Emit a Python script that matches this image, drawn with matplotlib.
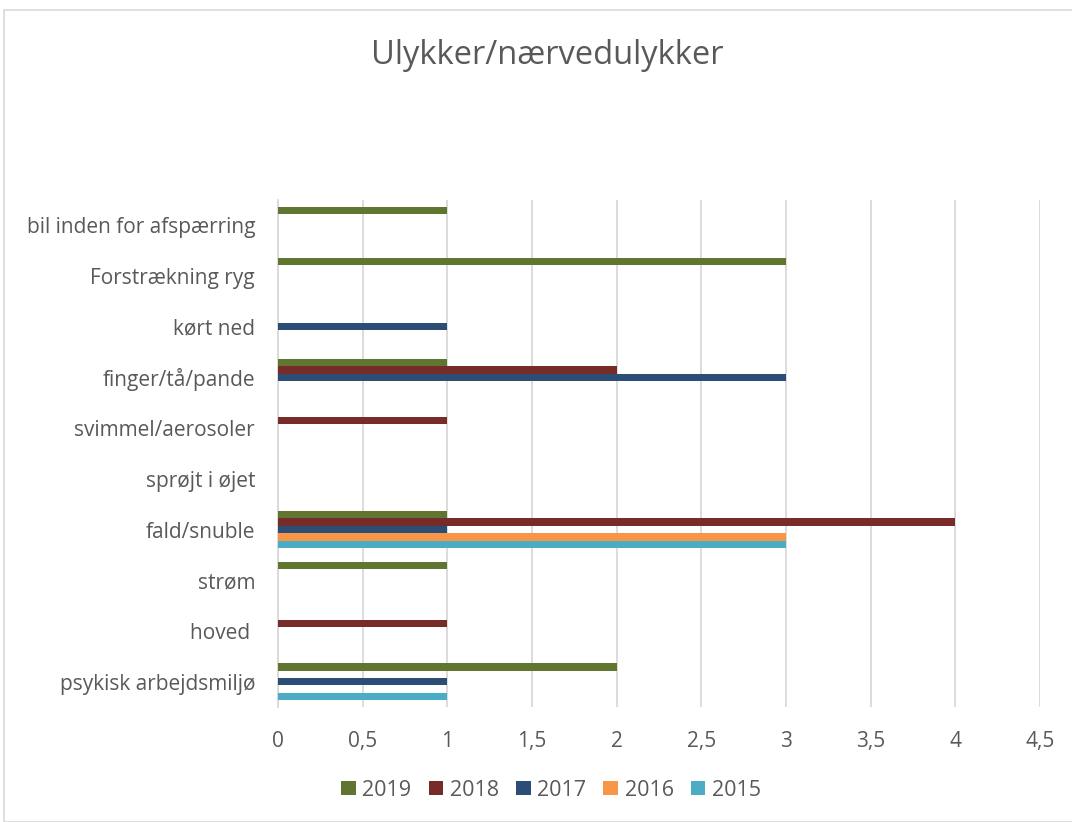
import matplotlib
matplotlib.use("Agg")
import matplotlib.pyplot as plt
import numpy as np
from matplotlib.patches import Rectangle

categories = ["psykisk arbejdsmiljø", "hoved ", "strøm", "fald/snuble", "sprøjt i øjet",
              "svimmel/aerosoler", "finger/tå/pande", "kørt ned", "Forstrækning ryg",
              "bil inden for afspærring"]
v2019 = [2, 0, 1, 1, 0, 0, 1, 0, 3, 1]
v2018 = [0, 1, 0, 4, 0, 1, 2, 0, 0, 0]
v2017 = [1, 0, 0, 1, 0, 0, 3, 1, 0, 0]
v2016 = [0, 0, 0, 3, 0, 0, 0, 0, 0, 0]
v2015 = [1, 0, 0, 3, 0, 0, 0, 0, 0, 0]
series_labels = ["2019", "2018", "2017", "2016", "2015"]
colors = ["#5F7530", "#772C2A", "#2C4D75", "#F79646", "#4BACC6"]
xticks = [0, 0.5, 1, 1.5, 2, 2.5, 3, 3.5, 4, 4.5]

plt.rcParams['font.family'] = ['Open Sans', 'DejaVu Sans']
fig = plt.figure(figsize=(10.72, 8.22), dpi=100)
fig.patches.append(Rectangle((4/1072, 0), 1.0, 1 - 10/822, transform=fig.transFigure,
                             fill=False, edgecolor="#D9D9D9", linewidth=1.2))
ax = fig.add_axes([278/1072, 1 - 707/822, (1040 - 278)/1072, 507/822])

y = np.arange(len(categories))
h = 0.146
all_vals = [v2019, v2018, v2017, v2016, v2015]
offsets = [2, 1, 0, -1, -2]
handles = []
for vals, off, c, lab in zip(all_vals, offsets, colors, series_labels):
    b = ax.barh(y + off * h, vals, height=h, color=c, linewidth=0, label=lab, zorder=3)
    handles.append(b)

ax.set_xlim(0, 4.5)
ax.set_ylim(-0.5, len(categories) - 0.5)
ax.set_xticks(xticks)
ax.set_xticklabels([("%g" % t).replace(".", ",") for t in xticks])
ax.set_yticks(y)
ax.set_yticklabels(categories)
ax.tick_params(axis='both', length=0, labelsize=15, colors="#595959")
ax.tick_params(axis='y', pad=16.5)
ax.tick_params(axis='x', pad=17)
ax.grid(axis='x', color="#D9D9D9", linewidth=1.3, zorder=0)
for s in ["top", "right", "bottom"]:
    ax.spines[s].set_visible(False)
ax.spines["left"].set_color("#D9D9D9")
ax.spines["left"].set_linewidth(1.3)

fig.text(547/1072, 1 - 55/822, "Ulykker/nærvedulykker", ha="center", va="center",
         fontsize=23.5, color="#595959")

fig.legend(handles=handles, labels=series_labels, loc="center", ncol=5,
           bbox_to_anchor=(551/1072, 1 - 790/822), frameon=False, fontsize=15.5,
           handlelength=0.68, handleheight=0.68, handletextpad=0.3, columnspacing=0.8,
           labelcolor="#595959")

fig.savefig("out.png", dpi=100)
